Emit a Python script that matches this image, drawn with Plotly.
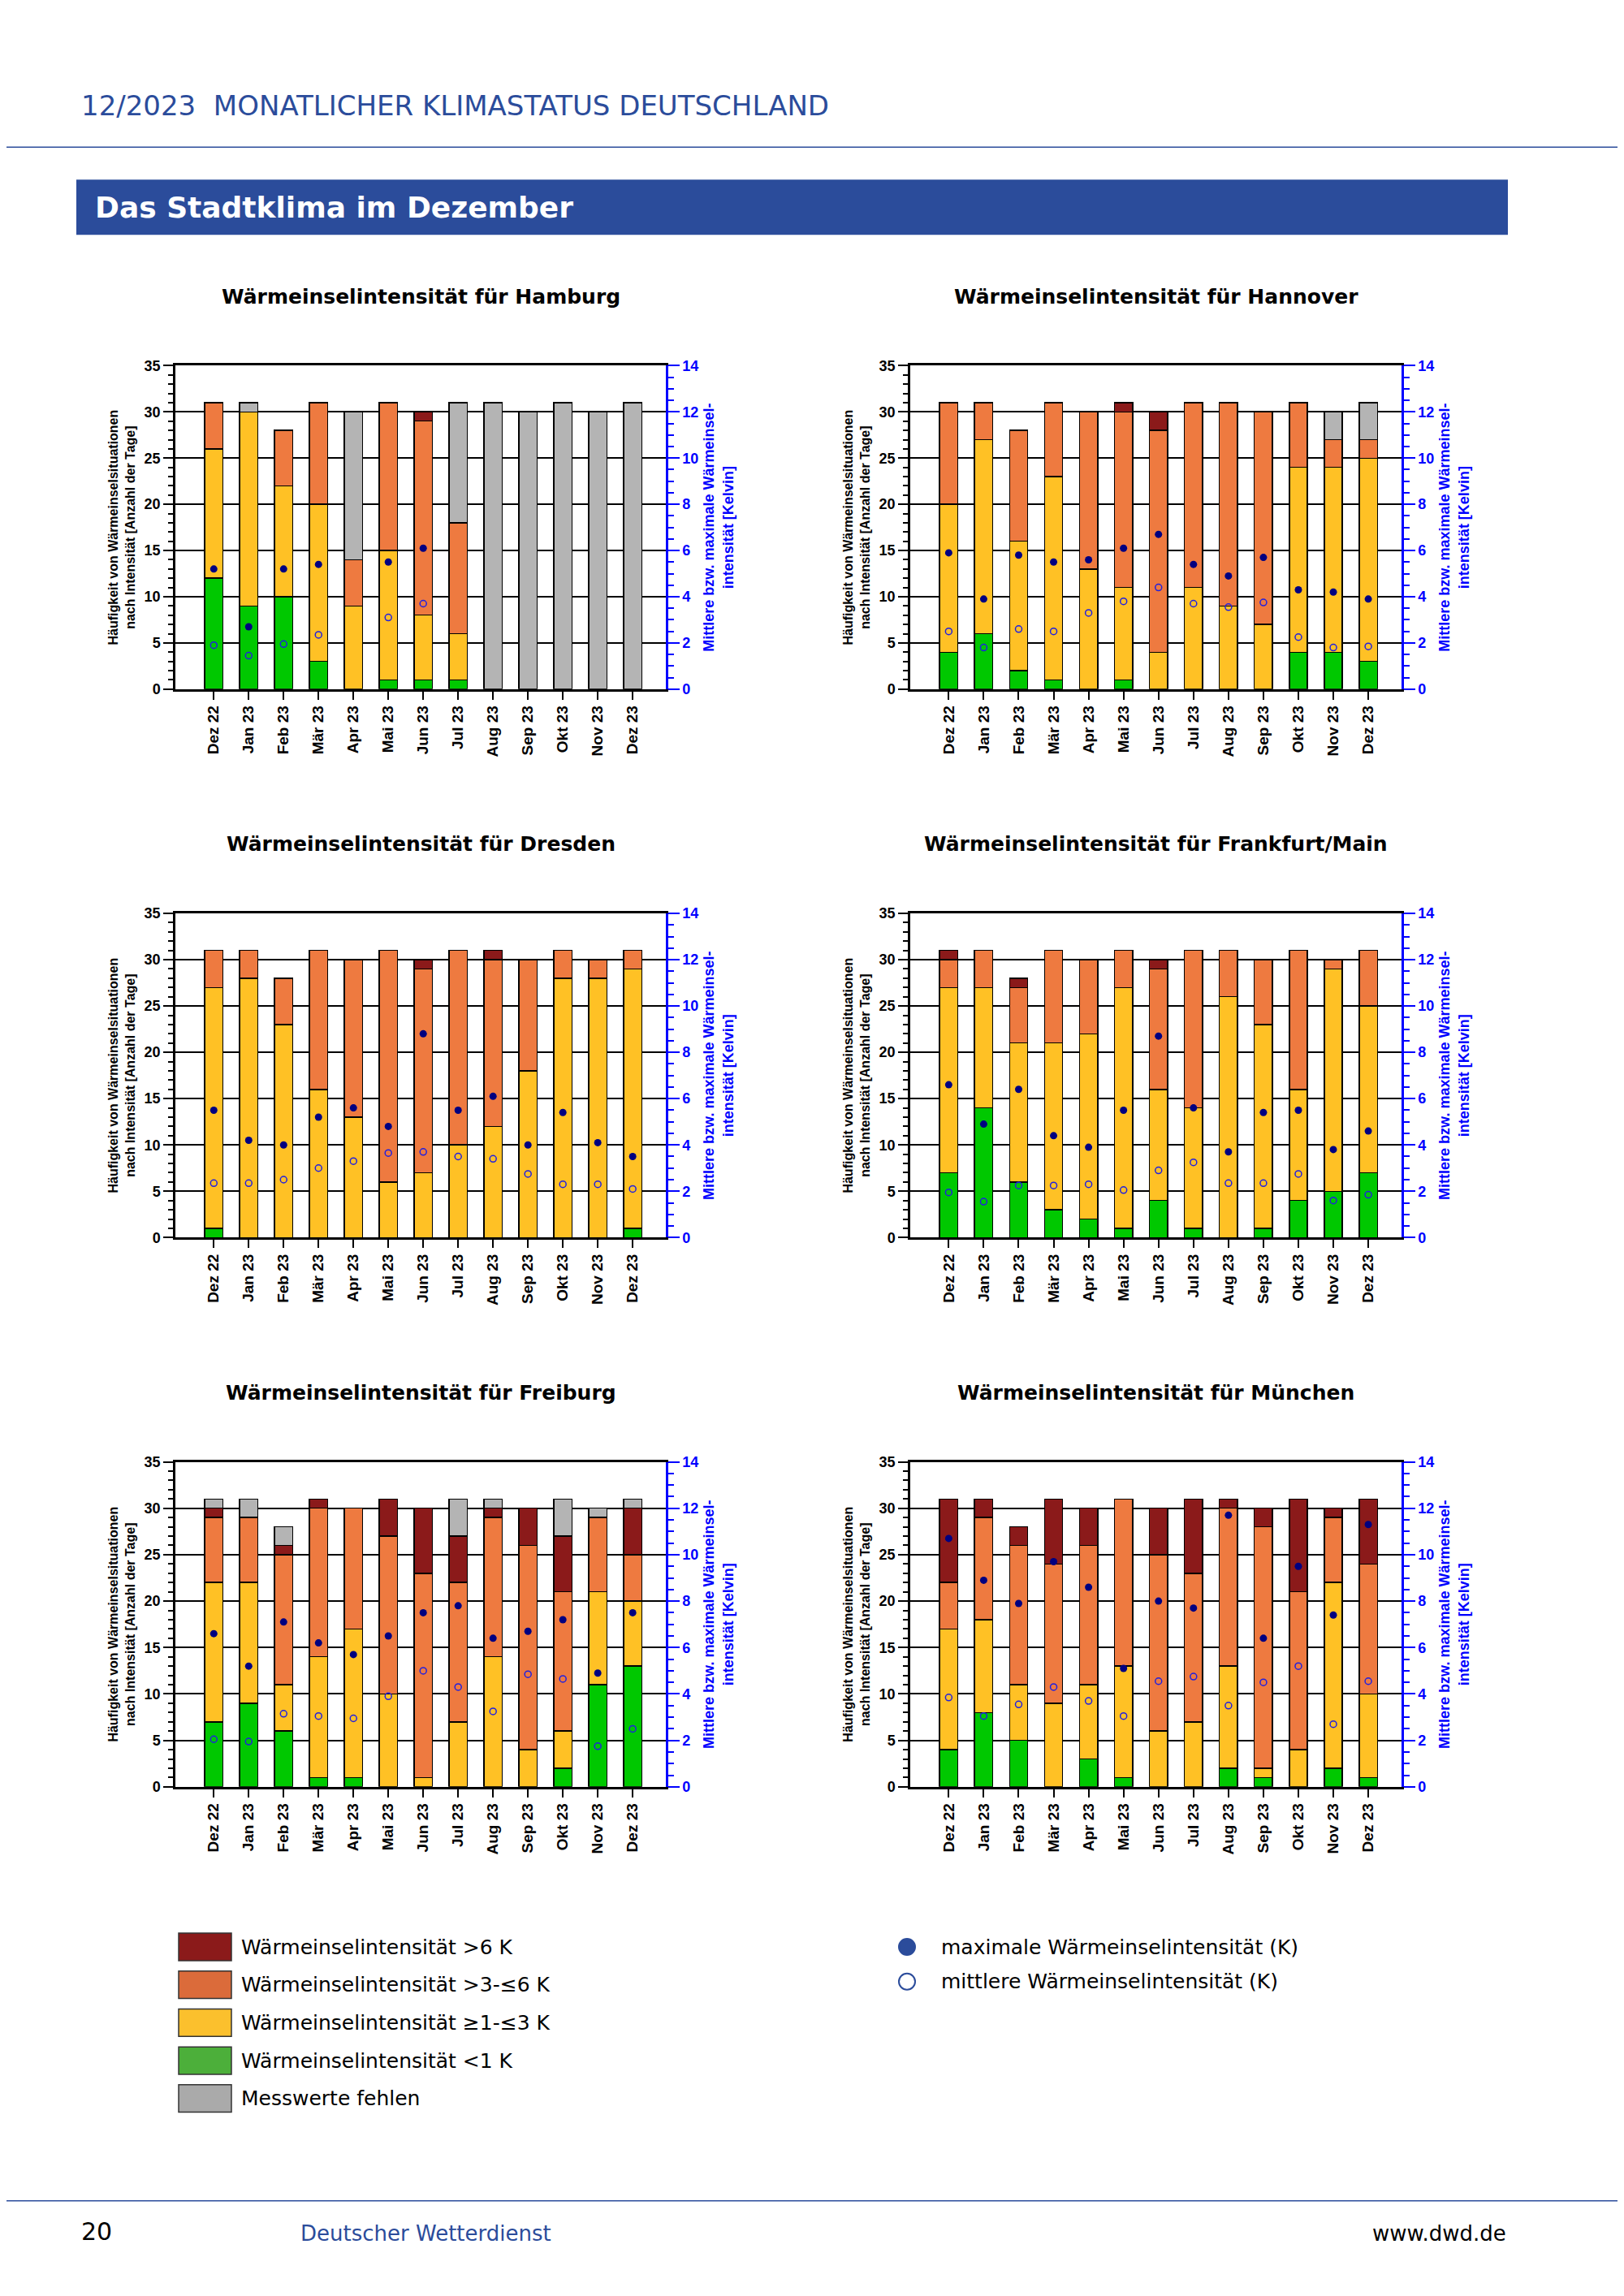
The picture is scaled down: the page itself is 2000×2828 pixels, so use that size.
import plotly.graph_objects as go

months = ["Dez 22", "Jan 23", "Feb 23", "Mär 23", "Apr 23", "Mai 23", "Jun 23",
          "Jul 23", "Aug 23", "Sep 23", "Okt 23", "Nov 23", "Dez 23"]

# days per class: <1 K, 1-3 K, 3-6 K, >6 K, missing
hamburg_lt1 = [12, 9, 10, 3, 0, 1, 1, 1, 0, 0, 0, 0, 0]
hamburg_1to3 = [14, 21, 12, 17, 9, 14, 7, 5, 0, 0, 0, 0, 0]
hamburg_3to6 = [5, 0, 6, 11, 5, 16, 21, 12, 0, 0, 0, 0, 0]
hamburg_gt6 = [0, 0, 0, 0, 0, 0, 1, 0, 0, 0, 0, 0, 0]
hamburg_miss = [0, 1, 0, 0, 16, 0, 0, 13, 31, 30, 31, 30, 31]
hamburg_max = [5.2, 2.7, 5.2, 5.4, None, 5.5, 6.1, None, None, None, None, None, None]
hamburg_mean = [1.9, 1.45, 1.95, 2.35, None, 3.1, 3.7, None, None, None, None, None, None]

hannover_lt1 = [4, 6, 2, 1, 0, 1, 0, 0, 0, 0, 4, 4, 3]
hannover_1to3 = [16, 21, 14, 22, 13, 10, 4, 11, 9, 7, 20, 20, 22]
hannover_3to6 = [11, 4, 12, 8, 17, 19, 24, 20, 22, 23, 7, 3, 2]
hannover_gt6 = [0, 0, 0, 0, 0, 1, 2, 0, 0, 0, 0, 0, 0]
hannover_miss = [0, 0, 0, 0, 0, 0, 0, 0, 0, 0, 0, 3, 4]
hannover_max = [5.9, 3.9, 5.8, 5.5, 5.6, 6.1, 6.7, 5.4, 4.9, 5.7, 4.3, 4.2, 3.9]
hannover_mean = [2.5, 1.8, 2.6, 2.5, 3.3, 3.8, 4.4, 3.7, 3.55, 3.75, 2.25, 1.8, 1.85]

dresden_lt1 = [1, 0, 0, 0, 0, 0, 0, 0, 0, 0, 0, 0, 1]
dresden_1to3 = [26, 28, 23, 16, 13, 6, 7, 10, 12, 18, 28, 28, 28]
dresden_3to6 = [4, 3, 5, 15, 17, 25, 22, 21, 18, 12, 3, 2, 2]
dresden_gt6 = [0, 0, 0, 0, 0, 0, 1, 0, 1, 0, 0, 0, 0]
dresden_miss = [0] * 13
dresden_max = [5.5, 4.2, 4.0, 5.2, 5.6, 4.8, 8.8, 5.5, 6.1, 4.0, 5.4, 4.1, 3.5]
dresden_mean = [2.35, 2.35, 2.5, 3.0, 3.3, 3.65, 3.7, 3.5, 3.4, 2.75, 2.3, 2.3, 2.1]

frankfurt_lt1 = [7, 14, 6, 3, 2, 1, 4, 1, 0, 1, 4, 5, 7]
frankfurt_1to3 = [20, 13, 15, 18, 20, 26, 12, 13, 26, 22, 12, 24, 18]
frankfurt_3to6 = [3, 4, 6, 10, 8, 4, 13, 17, 5, 7, 15, 1, 6]
frankfurt_gt6 = [1, 0, 1, 0, 0, 0, 1, 0, 0, 0, 0, 0, 0]
frankfurt_miss = [0] * 13
frankfurt_max = [6.6, 4.9, 6.4, 4.4, 3.9, 5.5, 8.7, 5.6, 3.7, 5.4, 5.5, 3.8, 4.6]
frankfurt_mean = [1.95, 1.55, 2.25, 2.25, 2.3, 2.05, 2.9, 3.25, 2.35, 2.35, 2.75, 1.6, 1.85]

freiburg_lt1 = [7, 9, 6, 1, 1, 0, 0, 0, 0, 0, 2, 11, 13]
freiburg_1to3 = [15, 13, 5, 13, 16, 10, 1, 7, 14, 4, 4, 10, 7]
freiburg_3to6 = [7, 7, 14, 16, 13, 17, 22, 15, 15, 22, 15, 8, 5]
freiburg_gt6 = [1, 0, 1, 1, 0, 4, 7, 5, 1, 4, 6, 0, 5]
freiburg_miss = [1, 2, 2, 0, 0, 0, 0, 4, 1, 0, 4, 1, 1]
freiburg_max = [6.6, 5.2, 7.1, 6.2, 5.7, 6.5, 7.5, 7.8, 6.4, 6.7, 7.2, 4.9, 7.5]
freiburg_mean = [2.05, 1.95, 3.15, 3.05, 2.95, 3.9, 5.0, 4.3, 3.25, 4.85, 4.65, 1.75, 2.5]

muenchen_lt1 = [4, 8, 5, 0, 3, 1, 0, 0, 2, 1, 0, 2, 1]
muenchen_1to3 = [13, 10, 6, 9, 8, 12, 6, 7, 11, 1, 4, 20, 9]
muenchen_3to6 = [5, 11, 15, 15, 15, 18, 19, 16, 17, 26, 17, 7, 14]
muenchen_gt6 = [9, 2, 2, 7, 4, 0, 5, 8, 1, 2, 10, 1, 7]
muenchen_miss = [0] * 13
muenchen_max = [10.7, 8.9, 7.9, 9.7, 8.6, 5.1, 8.0, 7.7, 11.7, 6.4, 9.5, 7.4, 11.3]
muenchen_mean = [3.85, 3.05, 3.55, 4.3, 3.7, 3.05, 4.55, 4.75, 3.5, 4.5, 5.2, 2.7, 4.55]

cities = [
    ("Hamburg", hamburg_lt1, hamburg_1to3, hamburg_3to6, hamburg_gt6, hamburg_miss, hamburg_max, hamburg_mean),
    ("Hannover", hannover_lt1, hannover_1to3, hannover_3to6, hannover_gt6, hannover_miss, hannover_max, hannover_mean),
    ("Dresden", dresden_lt1, dresden_1to3, dresden_3to6, dresden_gt6, dresden_miss, dresden_max, dresden_mean),
    ("Frankfurt/Main", frankfurt_lt1, frankfurt_1to3, frankfurt_3to6, frankfurt_gt6, frankfurt_miss, frankfurt_max, frankfurt_mean),
    ("Freiburg", freiburg_lt1, freiburg_1to3, freiburg_3to6, freiburg_gt6, freiburg_miss, freiburg_max, freiburg_mean),
    ("München", muenchen_lt1, muenchen_1to3, muenchen_3to6, muenchen_gt6, muenchen_miss, muenchen_max, muenchen_mean),
]

colors = ["#00C800", "#FFC125", "#EE7A40", "#8B1A1A", "#B4B4B4"]
legend_colors = ["#8B1A1A", "#DB6B3A", "#FBC02D", "#4CAF3A", "#AAAAAA"]
legend_labels = ["Wärmeinselintensität >6 K", "Wärmeinselintensität >3-≤6 K",
                 "Wärmeinselintensität ≥1-≤3 K", "Wärmeinselintensität <1 K", "Messwerte fehlen"]

W, H = 2000, 2828
BLUE = "#2B4C9B"
ARIAL = "Liberation Sans"


def px(v):  # page x pixel -> paper
    return (v - 8) / W


def py(v):  # page y pixel -> paper, with small correction for page offset
    off = 18 * (2400 - v) / 2270 if v < 2400 else 0
    return 1 - (v - off) / H


fig = go.Figure()

# plot area pixel boxes (left, right, top, bottom)
col_x = [(216, 820), (1121, 1726)]
row_y = [(451, 849), (1125, 1524), (1800, 2200)]

layout_axes = {}
annotations = []
for i, (name, g, y, o, r, m, mx, mn) in enumerate(cities):
    row, col = divmod(i, 2)
    x0, x1 = col_x[col]
    t, b = row_y[row]
    n = i + 1
    xa = "x" if n == 1 else f"x{n}"
    ya = "y" if n == 1 else f"y{2 * n - 1}"
    ya2 = f"y{2 * n}"
    for vals, c in zip([g, y, o, r, m], colors):
        fig.add_trace(go.Bar(x=months, y=vals, marker=dict(color=c, line=dict(color="black", width=1.5)),
                             width=0.52, xaxis=xa, yaxis=ya, showlegend=False))
    fig.add_trace(go.Scatter(x=months, y=mx, mode="markers", xaxis=xa, yaxis=ya2, showlegend=False,
                             marker=dict(color="#000080", size=9)))
    fig.add_trace(go.Scatter(x=months, y=mn, mode="markers", xaxis=xa, yaxis=ya2, showlegend=False,
                             marker=dict(symbol="circle-open", color="#2020E0", size=8, line=dict(width=1.5))))
    layout_axes[xa.replace("x", "xaxis")] = dict(
        domain=[px(x0), px(x1)], anchor=ya, range=[-1.1, 12.95], showline=True, linecolor="black",
        linewidth=2.5, mirror=True, ticks="outside", ticklen=10, tickwidth=2, tickcolor="black",
        tickangle=-90, tickfont=dict(family=ARIAL, size=19, color="black", weight="bold"), showgrid=False)
    layout_axes[ya.replace("y", "yaxis")] = dict(
        domain=[py(b), py(t)], anchor=xa, range=[0, 35], dtick=5, showline=True, linecolor="black",
        linewidth=2.5, ticks="outside", ticklen=12, tickwidth=2, tickcolor="black", showgrid=True,
        gridcolor="black", gridwidth=1.5, zeroline=False,
        minor=dict(dtick=1, ticks="outside", ticklen=6, tickcolor="black"),
        tickfont=dict(family=ARIAL, size=18, color="black", weight="bold"),
        title=dict(text="Häufigkeit von Wärmeinselsituationen<br>nach Intensität [Anzahl der Tage]",
                   font=dict(family=ARIAL, size=16, color="black", weight="bold"), standoff=8))
    layout_axes[ya2.replace("y", "yaxis")] = dict(
        domain=[py(b), py(t)], anchor=xa, overlaying=ya, side="right", range=[0, 14], dtick=2,
        showline=True, linecolor="#0000FF", linewidth=2.5, ticks="outside", ticklen=14, tickwidth=2,
        tickcolor="#0000FF", showgrid=False, zeroline=False,
        minor=dict(dtick=0.5, ticks="outside", ticklen=7, tickcolor="#0000FF"),
        tickfont=dict(family=ARIAL, size=18, color="#0000FF", weight="bold"),
        title=dict(text="Mittlere bzw. maximale Wärmeinsel-<br>intensität [Kelvin]",
                   font=dict(family=ARIAL, size=18, color="#0000FF", weight="bold"), standoff=8))
    annotations.append(dict(text=f"<b>Wärmeinselintensität für {name}</b>",
                            x=px((x0 + x1) / 2), y=py(t - 85), xanchor="center",
                            font=dict(family="DejaVu Sans", size=25, color="black")))

shapes = [
    dict(type="line", xref="paper", yref="paper", x0=0, x1=1, y0=py(182), y1=py(182),
         line=dict(color=BLUE, width=1.5)),
    dict(type="rect", xref="paper", yref="paper", x0=px(94), x1=px(1857), y0=py(290), y1=py(222),
         fillcolor=BLUE, line=dict(width=0)),
    dict(type="line", xref="paper", yref="paper", x0=0, x1=1, y0=py(2712), y1=py(2712),
         line=dict(color=BLUE, width=1.5)),
]

annotations += [
    dict(text="12/2023  MONATLICHER KLIMASTATUS DEUTSCHLAND", x=px(98), y=py(131), xanchor="left",
         font=dict(family="DejaVu Sans", size=34, color=BLUE)),
    dict(text="<b>Das Stadtklima im Dezember</b>", x=px(115), y=py(256), xanchor="left",
         font=dict(family="DejaVu Sans", size=36, color="white")),
    dict(text="20", x=px(98), y=py(2750), xanchor="left",
         font=dict(family="DejaVu Sans", size=30, color="black")),
    dict(text="Deutscher Wetterdienst", x=px(368), y=py(2752), xanchor="left",
         font=dict(family="DejaVu Sans", size=26, color=BLUE)),
    dict(text="www.dwd.de", x=px(1857), y=py(2752), xanchor="right",
         font=dict(family="DejaVu Sans", size=26, color="black")),
]

for k, (lab, c) in enumerate(zip(legend_labels, legend_colors)):
    yc = 2397 + k * 47
    shapes.append(dict(type="rect", xref="paper", yref="paper", x0=px(220), x1=px(285),
                       y0=py(yc + 17), y1=py(yc - 17), fillcolor=c, line=dict(color="#333333", width=1.5)))
    annotations.append(dict(text=lab, x=px(295), y=py(yc), xanchor="left",
                            font=dict(family="DejaVu Sans", size=25, color="black")))

for k, (lab, filled) in enumerate([("maximale Wärmeinselintensität (K)", True),
                                   ("mittlere Wärmeinselintensität (K)", False)]):
    yc = 2397 + k * 43
    shapes.append(dict(type="circle", xref="paper", yref="paper", x0=px(1107), x1=px(1127),
                       y0=py(yc + 10), y1=py(yc - 10),
                       fillcolor=BLUE if filled else "white", line=dict(color=BLUE, width=2)))
    annotations.append(dict(text=lab, x=px(1157), y=py(yc), xanchor="left",
                            font=dict(family="DejaVu Sans", size=25, color="black")))

for a in annotations:
    a.setdefault("xref", "paper")
    a.setdefault("yref", "paper")
    a.setdefault("showarrow", False)
    a.setdefault("yanchor", "middle")

fig.update_layout(width=W, height=H, margin=dict(l=0, r=0, t=0, b=0), barmode="stack",
                  paper_bgcolor="white", plot_bgcolor="white", shapes=shapes, annotations=annotations,
                  **layout_axes)

fig.write_html("out.html")
